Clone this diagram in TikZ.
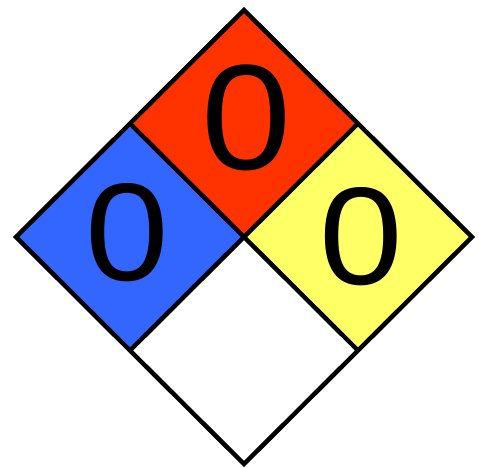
\documentclass[tikz,border=0pt]{standalone}
\usepackage{fontspec}
\setmainfont{Liberation Sans}
\newfontfamily\digitfont[FakeStretch=1.08]{Liberation Sans}
\definecolor{firered}{HTML}{FF3300}
\definecolor{healthblue}{HTML}{3366FF}
\definecolor{reactyellow}{HTML}{FFFF66}
\tikzset{
  frame/.style={draw=black,line width=4.5pt,line join=miter},
  rating/.style={font=\digitfont\fontsize{139}{139}\selectfont,inner sep=0pt,text=black}
}
\begin{document}
\begin{tikzpicture}[x=1pt,y=-1pt]
    \path[use as bounding box] (0,0) rectangle (479,468);

    % corners and edge midpoints of the diamond
    \coordinate (T) at (244,10);
    \coordinate (L) at (16,237);
    \coordinate (R) at (472,237);
    \coordinate (B) at (244,464);
    \coordinate (C) at (244,237);
    \coordinate (TL) at (130,123.5);
    \coordinate (TR) at (358,123.5);
    \coordinate (BL) at (130,350.5);
    \coordinate (BR) at (358,350.5);

    \fill[firered] (T) -- (TR) -- (C) -- (TL) -- cycle;
    \fill[healthblue] (TL) -- (C) -- (BL) -- (L) -- cycle;
    \fill[reactyellow] (TR) -- (R) -- (BR) -- (C) -- cycle;
    \fill[white] (C) -- (BR) -- (B) -- (BL) -- cycle;

    \draw[frame] (T) -- (R) -- (B) -- (L) -- cycle;
    \draw[frame] (TL) -- (BR) (TR) -- (BL);

    \node[rating,font=\digitfont\fontsize{150}{150}\selectfont] (flammability) at (247,118) {0};
    \node[rating] (health) at (127.5,232.5) {0};
    \node[rating] (instability) at (361,237) {0};
\end{tikzpicture}
\end{document}
